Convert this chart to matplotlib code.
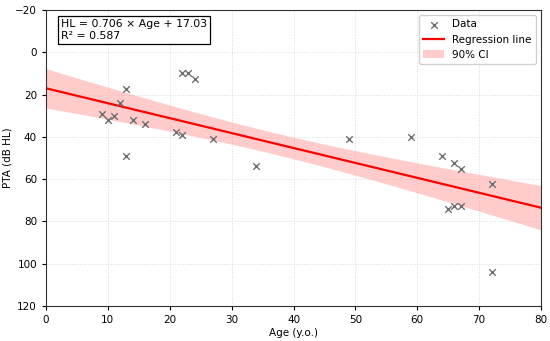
import numpy as np
import matplotlib
matplotlib.use("Agg")
import matplotlib.pyplot as plt

age = [9, 10, 11, 12, 13, 13, 14, 16, 21, 22, 22, 23, 24, 27, 34,
       49, 59, 64, 65, 66, 66, 67, 67, 72, 72]
pta = [29, 32, 30, 24, 17.5, 49, 32, 34, 37.5, 39, 10, 10, 12.5, 41, 54,
       41, 40, 49, 74, 52.5, 72.5, 55, 72.5, 62.5, 104]
slope = 0.706
intercept = 17.03
r2 = 0.587
t90 = 1.714  # t(0.95, df=23)

x = np.array(age, float)
y = np.array(pta, float)
n = len(x)
xs = np.linspace(0, 80, 200)
yhat = slope * xs + intercept
resid = y - (slope * x + intercept)
s = np.sqrt(np.sum(resid**2) / (n - 2))
sxx = np.sum((x - x.mean())**2)
half = t90 * s * np.sqrt(1 / n + (xs - x.mean())**2 / sxx)

fig = plt.figure(figsize=(5.5, 3.41), dpi=100)
ax = fig.add_axes([46/550, 1 - 306/341, (541-46)/550, (306-10)/341])
ax.fill_between(xs, yhat - half, yhat + half, color='#ff9999', alpha=0.5,
                linewidth=0, label='90% CI', zorder=1)
ax.plot(xs, yhat, color='red', lw=1.6, label='Regression line', zorder=2)
ax.scatter(x, y, marker='x', color='#6e6e6e', s=22, linewidths=1.0,
           label='Data', zorder=3)
ax.set_xlim(0, 80)
ax.set_ylim(120, -20)
ax.set_xticks(range(0, 81, 10))
ax.set_yticks(range(-20, 121, 20))
ax.grid(True, linestyle=':', color='#dadada', linewidth=0.7)
ax.set_axisbelow(True)
ax.tick_params(labelsize=7.5, length=3)
ax.set_xlabel('Age (y.o.)', fontsize=7.5, labelpad=2)
ax.set_ylabel('PTA (dB HL)', fontsize=7.5, labelpad=2)
for sp in ax.spines.values():
    sp.set_color('#333333')
handles, labels = ax.get_legend_handles_labels()
order = [labels.index('Data'), labels.index('Regression line'), labels.index('90% CI')]
ax.legend([handles[i] for i in order], [labels[i] for i in order],
          loc='upper right', fontsize=7.5, framealpha=0.9)
ax.text(0.03, 0.968, f'HL = {slope:.3f} × Age + {intercept:.2f}\nR² = {r2:.3f}',
        transform=ax.transAxes, fontsize=7.8, va='top', ha='left',
        bbox=dict(boxstyle='square,pad=0.3', facecolor='white', edgecolor='black', linewidth=0.9))
fig.savefig('out.png', dpi=100)
